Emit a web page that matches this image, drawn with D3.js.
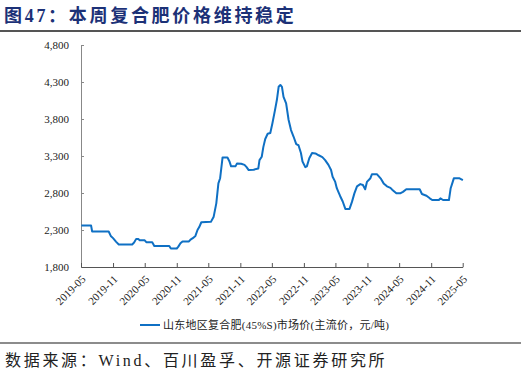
<!DOCTYPE html>
<html>
<head>
<meta charset="utf-8">
<script src="https://cdn.jsdelivr.net/npm/d3@7"></script>
<style>
    body { margin: 0; background: #fff; }
    svg { display: block; }
</style>
</head>
<body>
<div id="chart"></div>
<script>
// weekly price points
var dates = [
    "2019-05-03", "2019-06-28", "2019-07-04", "2019-10-07", "2019-10-19", "2019-11-01",
    "2019-11-19", "2019-12-04", "2020-02-19", "2020-03-01", "2020-03-13", "2020-03-25",
    "2020-04-02", "2020-05-01", "2020-05-10", "2020-06-13", "2020-06-25", "2020-09-19",
    "2020-09-28", "2020-11-01", "2020-11-10", "2020-11-22", "2020-12-04", "2021-01-10",
    "2021-01-19", "2021-02-01", "2021-02-16", "2021-02-28", "2021-03-10", "2021-03-22",
    "2021-05-16", "2021-06-01", "2021-06-16", "2021-06-28", "2021-07-08", "2021-07-22",
    "2021-08-19", "2021-08-30", "2021-09-09", "2021-10-04", "2021-10-13", "2021-11-06",
    "2021-11-25", "2021-12-07", "2021-12-19", "2022-01-16", "2022-02-12", "2022-02-19",
    "2022-03-04", "2022-03-13", "2022-03-24", "2022-04-07", "2022-04-22", "2022-05-04",
    "2022-05-19", "2022-05-30", "2022-06-09", "2022-06-19", "2022-06-28", "2022-07-07",
    "2022-07-22", "2022-08-05", "2022-08-19", "2022-09-03", "2022-09-18", "2022-10-01",
    "2022-10-15", "2022-10-24", "2022-11-09", "2022-11-18", "2022-12-02", "2022-12-18",
    "2023-01-06", "2023-01-25", "2023-02-15", "2023-03-03", "2023-03-22", "2023-04-06",
    "2023-04-15", "2023-04-30", "2023-05-09", "2023-05-18", "2023-05-28", "2023-06-12",
    "2023-06-27", "2023-07-21", "2023-08-04", "2023-08-18", "2023-09-02", "2023-09-21",
    "2023-10-06", "2023-10-19", "2023-10-29", "2023-11-18", "2023-11-27", "2023-12-25",
    "2024-01-18", "2024-02-02", "2024-02-21", "2024-03-12", "2024-03-22", "2024-04-15",
    "2024-05-07", "2024-05-23", "2024-06-11", "2024-08-27", "2024-09-09", "2024-10-05",
    "2024-10-24", "2024-11-07", "2024-12-15", "2024-12-24", "2025-01-08", "2025-02-11",
    "2025-02-21", "2025-03-02", "2025-03-11", "2025-04-13", "2025-05-02"
];
var prices = [
    2360, 2360, 2280, 2280, 2220, 2190,
    2140, 2105, 2105, 2130, 2180, 2180,
    2160, 2160, 2135, 2135, 2085, 2085,
    2050, 2050, 2075, 2120, 2145, 2145,
    2170, 2190, 2220, 2300, 2340, 2405,
    2410, 2480, 2660, 2930, 3000, 3280,
    3280, 3230, 3160, 3160, 3200, 3195,
    3180, 3150, 3110, 3115, 3130, 3245,
    3290, 3420, 3530, 3600, 3610, 3740,
    3920, 4060, 4235, 4260, 4235, 4100,
    4010, 3790, 3650, 3560, 3460, 3445,
    3340, 3225, 3150, 3160, 3270, 3340,
    3335, 3310, 3285, 3245, 3180, 3110,
    3020, 2950, 2865, 2815, 2760, 2685,
    2585, 2585, 2680, 2795, 2890, 2920,
    2908, 2850, 2950, 3000, 3055, 3055,
    2990, 2930, 2890, 2870, 2845, 2796,
    2796, 2815, 2850, 2850, 2786, 2763,
    2728, 2705, 2705, 2728, 2705, 2705,
    2865, 2930, 2998, 2998, 2975
];
var xTickLabels = ["2019-05", "2019-11", "2020-05", "2020-11", "2021-05", "2021-11", "2022-05",
    "2022-11", "2023-05", "2023-11", "2024-05", "2024-11", "2025-05"];
var yTicks = [1800, 2300, 2800, 3300, 3800, 4300, 4800];
var seriesName = "山东地区复合肥(45%S)市场价(主流价，元/吨)";

var parseDay = d3.timeParse("%Y-%m-%d");
var parseMonth = d3.timeParse("%Y-%m");
var data = dates.map(function (d, i) {
    return { date: parseDay(d), value: prices[i] };
});

var W = 521, H = 373;
var serif = "'Liberation Serif', 'Times New Roman', 'Noto Sans CJK SC', serif";
var cjk = "'Liberation Serif', 'Noto Sans CJK SC', serif";

var svg = d3.select("#chart").append("svg")
    .attr("width", W)
    .attr("height", H);

// title and rule under it
svg.append("text")
    .attr("x", 4)
    .attr("y", 22)
    .style("font-family", cjk)
    .style("font-size", "18px")
    .style("font-weight", "bold")
    .style("letter-spacing", "2.7px")
    .style("fill", "#1c3177")
    .text("图47：本周复合肥价格维持稳定");

svg.append("line")
    .attr("x1", 0).attr("x2", W)
    .attr("y1", 31).attr("y2", 31)
    .style("stroke", "#555")
    .style("stroke-width", 2);

// scales
var x = d3.scaleTime()
    .domain([parseMonth(xTickLabels[0]), parseMonth(xTickLabels[xTickLabels.length - 1])])
    .range([81, 462.7]);
var y = d3.scaleLinear()
    .domain([yTicks[0], yTicks[yTicks.length - 1]])
    .range([267, 45]);

// y axis, ticks pointing inward
var yAxis = svg.append("g")
    .attr("transform", "translate(81,0)")
    .call(d3.axisRight(y).tickValues(yTicks).tickSize(3).tickFormat(d3.format(",")));
yAxis.select(".domain").style("stroke", "#888");
yAxis.selectAll(".tick line").style("stroke", "#888");
yAxis.selectAll(".tick text")
    .attr("x", -12)
    .style("text-anchor", "end")
    .style("font-family", serif)
    .style("font-size", "11px")
    .style("fill", "#222");

// x axis
var xAxis = svg.append("g")
    .attr("transform", "translate(0,267)")
    .call(d3.axisTop(x)
        .tickValues(xTickLabels.map(function (d) { return parseMonth(d); }))
        .tickSize(4)
        .tickSizeOuter(0)
        .tickFormat(d3.timeFormat("%Y-%m")));
xAxis.select(".domain").style("stroke", "#555");
xAxis.selectAll(".tick line").style("stroke", "#555");
xAxis.selectAll(".tick text")
    .attr("y", 0)
    .attr("dy", 0)
    .attr("transform", "translate(3,11) rotate(-45)")
    .style("text-anchor", "end")
    .style("dominant-baseline", "middle")
    .style("font-family", serif)
    .style("font-size", "11px")
    .style("fill", "#222");

// price line
var line = d3.line()
    .x(function (d) { return x(d.date); })
    .y(function (d) { return y(d.value); });

svg.append("path")
    .datum(data)
    .attr("d", line)
    .style("fill", "none")
    .style("stroke", "#0f70c4")
    .style("stroke-width", 2)
    .style("stroke-linejoin", "round");

// legend
svg.append("line")
    .attr("x1", 140).attr("x2", 160)
    .attr("y1", 325).attr("y2", 325)
    .style("stroke", "#0f70c4")
    .style("stroke-width", 2);
svg.append("text")
    .attr("x", 163)
    .attr("y", 329)
    .style("font-family", cjk)
    .style("font-size", "11px")
    .style("letter-spacing", "0.25px")
    .style("fill", "#222")
    .text(seriesName);

// source note
svg.append("line")
    .attr("x1", 0).attr("x2", W)
    .attr("y1", 343).attr("y2", 343)
    .style("stroke", "#666")
    .style("stroke-width", 1.5);
svg.append("text")
    .attr("x", 5)
    .attr("y", 366)
    .style("font-family", cjk)
    .style("font-size", "16px")
    .style("letter-spacing", "2.7px")
    .style("fill", "#222")
    .text("数据来源：Wind、百川盈孚、开源证券研究所");
</script>
</body>
</html>
